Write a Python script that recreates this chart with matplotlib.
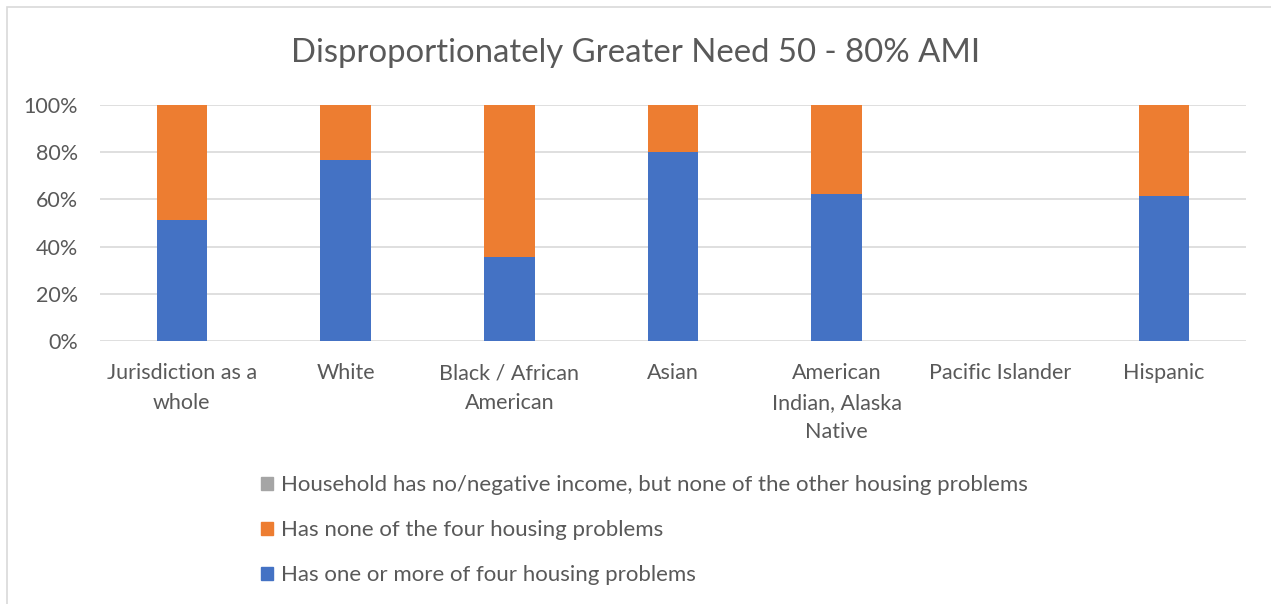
import matplotlib.pyplot as plt
import matplotlib.patches as mpatches
import numpy as np

plt.rcParams['font.family'] = ['Lato', 'DejaVu Sans']

# Data (shares of households)
categories = ["Jurisdiction as a\nwhole", "White", "Black / African\nAmerican", "Asian",
              "American\nIndian, Alaska\nNative", "Pacific Islander", "Hispanic"]
has_problems = [0.511, 0.766, 0.354, 0.800, 0.623, 0.0, 0.614]
no_problems = [0.489, 0.234, 0.646, 0.200, 0.377, 0.0, 0.386]
no_income = [0.0, 0.0, 0.0, 0.0, 0.0, 0.0, 0.0]

blue = "#4472C4"
orange = "#ED7D31"
gray = "#A5A5A5"
text_col = "#595959"

fig = plt.figure(figsize=(12.71, 6.04), dpi=100)
ax = fig.add_axes([0.0787, 0.4354, 0.9016, 0.3907])

x = np.arange(len(categories))
w = 0.31
ax.bar(x, has_problems, w, color=blue, zorder=3)
ax.bar(x, no_problems, w, bottom=has_problems, color=orange, zorder=3)
ax.bar(x, no_income, w, bottom=np.add(has_problems, no_problems), color=gray, zorder=3)

ax.set_xlim(-0.5, len(categories) - 0.5)
ax.set_ylim(0, 1)
ticks = np.arange(0, 1.01, 0.2)
ax.set_yticks(ticks)
ax.set_yticklabels([f"{int(round(v * 100))}%" for v in ticks])
ax.set_xticks(x)
ax.set_xticklabels(categories, linespacing=1.6, va="top")
ax.tick_params(axis="both", length=0, labelsize=15.5, colors=text_col)
ax.tick_params(axis="x", pad=16)
ax.tick_params(axis="y", pad=16)
ax.grid(axis="y", color="#D9D9D9", linewidth=1.2, zorder=0)
for s in ax.spines.values():
    s.set_visible(False)
ax.set_axisbelow(True)

fig.text(0.5, 0.913, "Disproportionately Greater Need 50 - 80% AMI", ha="center", va="center",
         fontsize=23.7, color=text_col)

handles = [mpatches.Patch(color=gray), mpatches.Patch(color=orange), mpatches.Patch(color=blue)]
labels = ["Household has no/negative income, but none of the other housing problems",
          "Has none of the four housing problems",
          "Has one or more of four housing problems"]
fig.legend(handles, labels, loc="upper left", bbox_to_anchor=(0.2055, 0.213), frameon=False,
           fontsize=16, labelcolor=text_col, handlelength=0.55, handleheight=0.55,
           handletextpad=0.35, labelspacing=1.12, borderaxespad=0, borderpad=0)

# light chart border (top and left only visible)
fig.add_artist(mpatches.Rectangle((0.0055, -0.01), 1.1, 0.999, transform=fig.transFigure,
                                  fill=False, edgecolor="#D9D9D9", linewidth=1.2))

fig.savefig("out.png", dpi=100)
